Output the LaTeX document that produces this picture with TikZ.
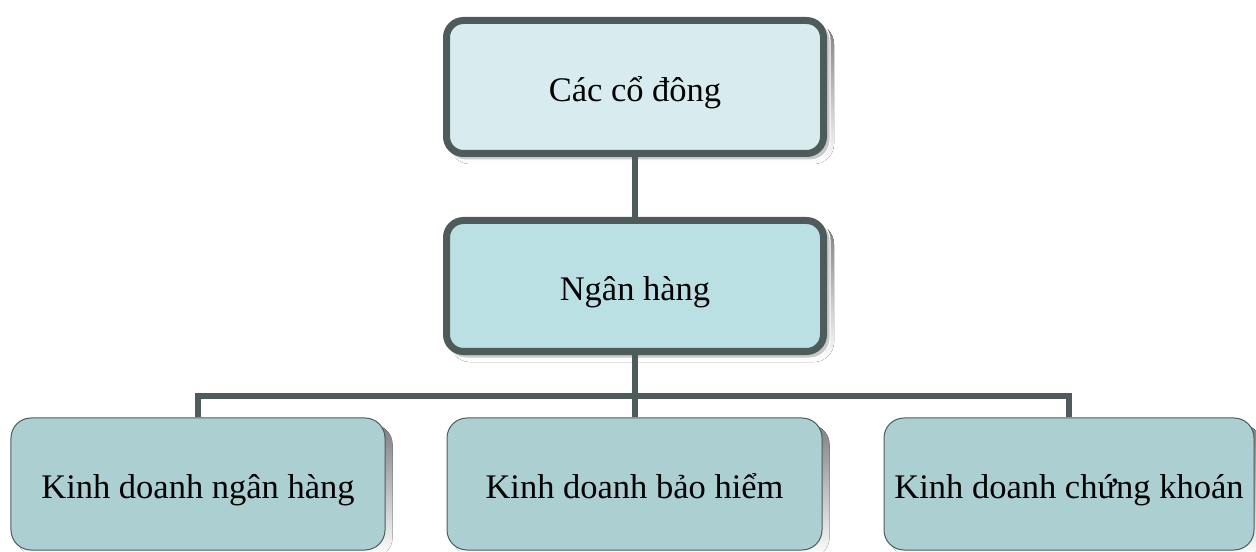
\documentclass[tikz,border=0pt]{standalone}
\usepackage{fontspec}
\setmainfont{Liberation Serif}
\pgfdeclarelayer{shadowlayer}
\pgfdeclarelayer{wires}
\pgfsetlayers{shadowlayer,wires,main}
\definecolor{edge}{HTML}{4D5B5B}
\definecolor{fillA}{HTML}{D8ECEF}
\definecolor{fillB}{HTML}{BBE0E4}
\definecolor{fillC}{HTML}{ACCFD2}
\definecolor{shade}{HTML}{BEBEBE}
\definecolor{shadeB}{HTML}{C9C9C9}
\begin{document}
\begin{tikzpicture}[x=1bp,y=-1bp,
  every node/.style={font=\fontsize{34.5bp}{40bp}\selectfont, text=black,
                     text height=38bp, text depth=9bp},
  headbox/.style={draw=edge, line width=7bp, rounded corners=17bp, inner sep=0pt,
                  minimum width=377bp, minimum height=133bp},
  unitbox/.style={draw=edge, line width=1bp, rounded corners=20bp, fill=fillC,
                  inner sep=0pt, minimum height=132bp},
  wire/.style={draw=edge, line width=6bp}]
\useasboundingbox (0,0) rectangle (1256,552);

% organisation boxes
\node[headbox, fill=fillA] (owners) at (635,87) {Các cổ đông};
\node[headbox, fill=fillB, minimum height=131bp] (bank) at (635,286) {Ngân hàng};
\node[unitbox, minimum width=374bp] (banking) at (198,484) {Kinh doanh ngân hàng};
\node[unitbox, minimum width=375bp] (insurance) at (634.5,484) {Kinh doanh bảo hiểm};
\node[unitbox, minimum width=370bp] (securities) at (1069,484) {Kinh doanh chứng khoán};
\coordinate (bus) at (635,396);

% drop shadows
\begin{pgfonlayer}{shadowlayer}
  \foreach \n in {owners,bank} {
    \fill[shade, rounded corners=20bp]
      ([shift={(7,7)}]\n.north west) rectangle ([shift={(7,7)}]\n.south east);
    \filldraw[fill=shadeB, draw=white, line width=1bp, rounded corners=20bp]
      ([shift={(3,3)}]\n.north west) rectangle ([shift={(3,3)}]\n.south east);
  }
  \foreach \n in {banking,insurance,securities}
    \fill[shade, rounded corners=20bp]
      ([shift={(7,7)}]\n.north west) rectangle ([shift={(7,7)}]\n.south east);
\end{pgfonlayer}

% connectors
\begin{pgfonlayer}{wires}
  \draw[wire] (owners.south) -- (bank.north);
  \draw[wire] (bank.south) -- (bank.south |- bus);
  \draw[wire] (banking.north) |- (bus) -| (securities.north);
  \draw[wire] (insurance.north) -- (insurance.north |- bus);
\end{pgfonlayer}
\end{tikzpicture}
\end{document}
